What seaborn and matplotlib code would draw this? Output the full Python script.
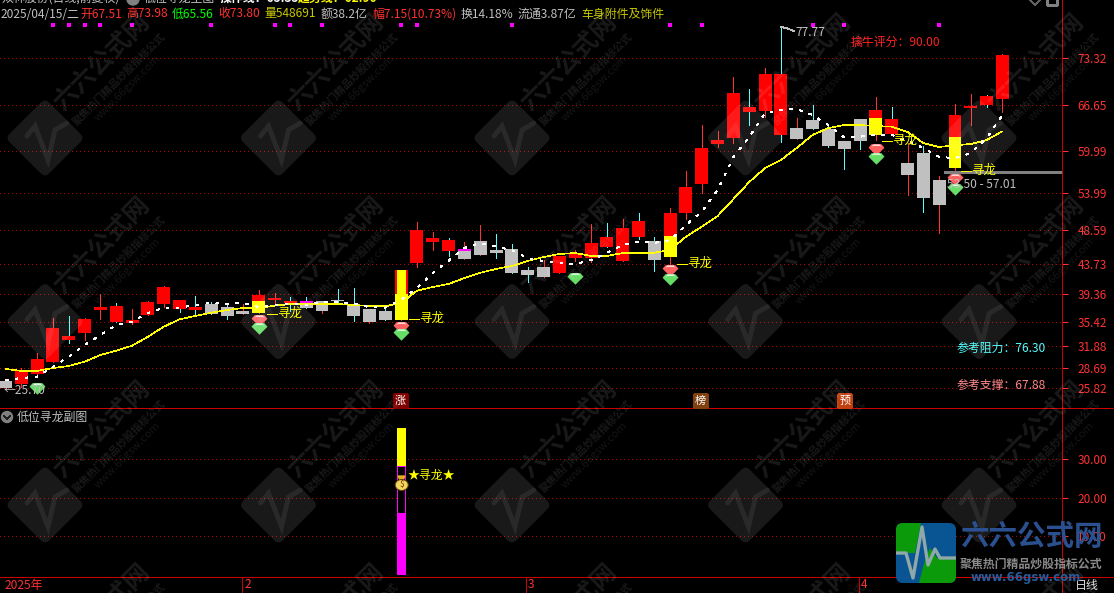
#!/usr/bin/env python3
# -*- coding: utf-8 -*-
import numpy as np
import pandas as pd
import seaborn as sns
import matplotlib.pyplot as plt
from matplotlib.patches import FancyBboxPatch, Polygon, Ellipse, Circle, Rectangle
from matplotlib.transforms import Affine2D

open_ = [26.89, 26.46, 27.89, 29.62, 32.79, 33.80, 37.10, 35.38, 35.23, 36.39, 37.97, 37.25, 37.10, 37.97, 37.53, 36.96,
         36.67, 38.55, 38.12, 38.26, 38.40, 38.55, 37.97, 37.25, 36.96, 35.66, 43.87, 46.89, 45.60, 45.74, 47.03, 45.74,
         45.89, 42.86, 43.30, 42.43, 44.59, 44.59, 46.17, 44.16, 47.61, 47.03, 44.73, 51.07, 55.24, 61.00, 61.86, 65.60,
         65.75, 62.30, 63.30, 64.45, 63.16, 61.43, 64.60, 62.30, 62.44, 58.26, 59.70, 55.82, 57.55, 66.18, 66.61, 67.51]
high = [26.89, 28.76, 30.92, 35.96, 36.25, 35.96, 39.41, 38.12, 37.25, 38.40, 40.56, 38.55, 39.12, 38.26, 37.97, 37.97,
        39.99, 39.55, 38.98, 38.98, 38.40, 40.13, 40.27, 37.25, 37.53, 42.86, 49.77, 48.33, 47.47, 46.89, 49.34, 48.05,
        46.61, 43.30, 44.30, 44.88, 45.74, 49.48, 49.63, 50.20, 51.07, 47.61, 51.79, 57.11, 63.73, 62.87, 70.64, 68.92,
        71.94, 77.77, 64.74, 66.61, 63.88, 61.43, 64.60, 67.76, 66.33, 61.14, 60.71, 56.39, 66.76, 68.20, 68.05, 73.98]
low = [25.70, 26.03, 27.89, 29.62, 32.36, 32.79, 35.81, 35.38, 35.09, 36.39, 37.53, 36.82, 36.53, 36.53, 35.81, 36.53,
       36.67, 37.82, 36.96, 37.39, 36.67, 37.97, 35.52, 35.23, 35.66, 35.66, 43.30, 45.74, 44.88, 44.45, 45.02, 44.59,
       42.43, 41.14, 41.86, 42.43, 44.16, 44.02, 46.17, 44.16, 47.32, 42.72, 43.73, 50.20, 53.95, 60.57, 61.14, 63.73,
       64.89, 61.29, 61.72, 63.16, 60.57, 57.40, 60.28, 61.57, 62.44, 53.66, 51.21, 48.19, 57.11, 63.73, 66.33, 65.56]
close = [25.88, 28.33, 30.05, 34.52, 33.37, 35.81, 37.53, 37.68, 35.66, 38.26, 40.42, 38.55, 37.53, 36.53, 36.25, 36.53,
         39.27, 38.84, 38.40, 37.39, 36.96, 38.40, 36.25, 35.38, 35.66, 42.86, 48.62, 47.47, 47.18, 44.45, 45.02, 45.31,
         42.43, 42.14, 41.86, 44.88, 45.31, 46.75, 47.61, 48.91, 49.92, 44.30, 51.07, 54.81, 60.43, 61.57, 68.34, 66.33,
         71.07, 71.07, 61.72, 63.16, 60.71, 60.28, 61.43, 65.89, 64.60, 56.54, 53.23, 52.22, 65.17, 66.47, 67.91, 73.80]
trend = [28.62, 28.33, 28.33, 28.76, 29.05, 29.67, 30.63, 31.25, 31.97, 33.26, 34.70, 35.77, 36.25, 36.72, 37.10, 37.39,
         37.39, 37.72, 37.97, 37.97, 37.97, 37.97, 37.82, 37.68, 37.64, 38.12, 39.89, 40.42, 40.85, 41.71, 42.47, 43.01,
         43.44, 44.16, 44.73, 45.17, 45.31, 44.88, 44.88, 45.31, 45.31, 45.35, 45.74, 47.66, 49.10, 50.64, 53.08, 55.53,
         57.55, 58.70, 60.43, 62.30, 63.30, 63.73, 63.73, 63.59, 63.49, 62.73, 61.14, 60.57, 60.81, 61.00, 61.57, 62.83]
oper = [27.03, 27.32, 27.51, 28.95, 30.39, 32.07, 33.51, 34.95, 35.42, 36.67, 37.44, 37.44, 37.82, 38.16, 37.97, 38.12,
        37.53, 37.82, 37.97, 37.82, 38.30, 38.26, 38.07, 37.50, 37.44, 38.55, 40.27, 42.43, 44.20, 46.03, 46.75, 46.22,
        45.74, 44.59, 44.16, 43.87, 43.73, 44.30, 45.31, 46.46, 46.94, 46.75, 47.18, 49.34, 51.26, 54.38, 59.13, 62.01,
        65.46, 65.89, 66.04, 65.17, 63.73, 61.96, 62.05, 62.30, 62.30, 61.43, 60.43, 59.13, 58.98, 59.70, 61.86, 65.17]
cyan_wick = [4, 7, 11, 12, 13, 14, 18, 19, 21, 22, 24, 28, 31, 32, 33, 38, 40, 41, 47, 49, 51, 52, 53, 54, 56, 58, 62]
yellow_part = {16: 38.40, 25: 39.41, 42: 47.76, 55: 64.74, 60: 62.01}
magenta_top = {19: 38.26, 29: 45.74}
dot_idx = [3, 4, 5, 6, 8, 13, 17, 18, 20, 25, 26, 32, 42, 44, 51, 53, 59]

green_gem_idx = [2, 16, 25, 36, 42, 55, 60]
green_gem_val = [26.07, 34.70, 33.84, 41.90, 41.71, 59.13, 54.71]
red_gem_idx = [16, 25, 42, 55, 60]
red_gem_val = [35.81, 34.85, 42.96, 60.43, 56.15]

price_ticks = [73.32, 66.65, 59.99, 53.99, 48.59, 43.73, 39.36, 35.42, 31.88, 28.69, 25.82]
sub_ticks = [30.00, 20.00, 10.00]
sub_idx = 25
sub_magenta = 16.0
sub_hollow_top = 28.3
sub_yellow_top = 38.0

RED = '#ff3232'
DKRED = '#cc0000'
CJK = ['Noto Sans CJK SC', 'DejaVu Sans']
W, H = 1114, 593

sns.set_theme(style='dark', rc={'axes.facecolor': 'black', 'figure.facecolor': 'black', 'savefig.facecolor': 'black'})
plt.rcParams['font.family'] = CJK
plt.rcParams['lines.antialiased'] = False
plt.rcParams['patch.antialiased'] = False
plt.rcParams['patch.force_edgecolor'] = False
plt.rcParams['axes.unicode_minus'] = False

df = pd.DataFrame({'idx': np.arange(len(open_)), 'open': open_, 'high': high, 'low': low, 'close': close,
                   'trend': trend, 'oper': oper})
df['up'] = df['close'] >= df['open']
df['wick'] = ['#55ffff' if i in cyan_wick else RED for i in df['idx']]

fig = plt.figure(figsize=(W / 100, H / 100), dpi=100)
ax = fig.add_axes([0, (H - 408.5) / H, 1062.3 / W, 408.5 / H])
ax2 = fig.add_axes([0, (H - 577) / H, 1062.3 / W, 168 / H])

# main panel
ax.vlines(df['idx'], df['low'], df['high'], colors=df['wick'], lw=0.72, zorder=2)
body_bottom = df[['open', 'close']].min(axis=1)
body_h = (df['open'] - df['close']).abs()
ax.bar(df['idx'], body_h, bottom=body_bottom, width=0.82, zorder=3, linewidth=0,
       color=['#ff0000' if u else '#c0c0c0' for u in df['up']])
for i, v in yellow_part.items():
    ax.bar(i, v - open_[i], bottom=open_[i], width=0.82, color='#ffff00', linewidth=0, zorder=4)
ax.bar(25, close[25] - yellow_part[25], bottom=yellow_part[25], width=0.57, color='#ffff00', linewidth=0, zorder=4)
for i, v in magenta_top.items():
    ax.bar(i, 0.3, bottom=v - 0.1, width=0.82, color='#ff00ff', linewidth=0, zorder=4)

sns.lineplot(data=df, x='idx', y='trend', color='#ffff00', lw=0.45, ax=ax, zorder=5)
sns.lineplot(data=df, x='idx', y='oper', color='white', lw=0.45, linestyle=(0, (4, 12)), dash_capstyle='butt',
             ax=ax, zorder=5)
ax.scatter(dot_idx, [78.13] * len(dot_idx), marker='s', s=6, color='#ff00ff', linewidths=0, zorder=5)

# gems
gem = [(-0.6, 0.55), (0.6, 0.55), (1, 0.1), (0, -0.9), (-1, 0.1)]
arc = [(-1, 0.3), (-0.6, 0.8), (0.6, 0.8), (1, 0.3), (0.6, 0.55), (-0.6, 0.55)]
ax.scatter(red_gem_idx, red_gem_val, marker=gem, s=133, color='#ff6060', linewidths=0, zorder=6)
ax.scatter(red_gem_idx, red_gem_val, marker=arc, s=52, color='white', linewidths=0, zorder=6)
ax.scatter(green_gem_idx, green_gem_val, marker=gem, s=133, color='#66dd66', linewidths=0, zorder=7)
ax.scatter(green_gem_idx, green_gem_val, marker=arc, s=52, color='white', linewidths=0, zorder=7)

ax.hlines(57.01, 59.3, 66.78, colors='#808080', lw=2, zorder=2)

xlim = (-5.5 / 15.825, (1062.3 - 5.5) / 15.825)
for a, ticks, ylim in [(ax, price_ticks, (81.725 - 408.5 * 0.14393, 81.725)), (ax2, sub_ticks, (-0.57, 43.06))]:
    a.set_xlim(xlim)
    a.set_ylim(ylim)
    a.set_xlabel('')
    a.set_ylabel('')
    a.set_xticks([])
    a.yaxis.tick_right()
    a.set_yticks(ticks)
    a.set_yticklabels(['%.2f' % t for t in ticks])
    a.tick_params(axis='y', colors=RED, labelsize=8.5, length=4.3, width=0.72, pad=6.5, right=True)
    a.grid(axis='y', color='#b00000', lw=0.72, ls=(0, (1, 3)))
    a.grid(axis='x', visible=False)
    a.set_axisbelow(True)
    for s in a.spines:
        a.spines[s].set_visible(False)

# sub panel
ax2.bar(sub_idx, sub_magenta, width=0.57, color='#ff00ff', linewidth=0, zorder=3)
ax2.bar(sub_idx, sub_hollow_top - sub_magenta, bottom=sub_magenta, width=0.55, facecolor='black',
        edgecolor='#ff00ff', lw=0.72, zorder=3)
ax2.bar(sub_idx, sub_yellow_top - sub_hollow_top, bottom=sub_hollow_top, width=0.57, color='#ffff00', linewidth=0,
        zorder=3)

# overlay in pixel coordinates for labels and watermark
ov = fig.add_axes([0, 0, 1, 1])
ov.set_xlim(0, W)
ov.set_ylim(H, 0)
ov.axis('off')
ov.patch.set_visible(False)
ov.set_zorder(5)


def label(x, y, s, color, size=8.6, ha='left', **kw):
    ov.text(x, y, s, color=color, fontsize=size, ha=ha, va='center', **kw)


# panel frame
for y in [408, 577]:
    ov.add_patch(Rectangle((0, y), W, 1, facecolor=DKRED, lw=0))
ov.add_patch(Rectangle((1062, 0), 1, H, facecolor=DKRED, lw=0))

# header line 1
label(2, -2, '双林股份(日线,前复权)', '#c0c0c0')
ov.add_patch(Circle((133, -1), 6, color='#808080', antialiased=True))
label(144, -2, '低位寻龙主图', '#c0c0c0')
label(220, -2, '操作线：65.35', 'white', fontweight='bold')
label(298, -2, '趋势线：62.90', '#ffff00', fontweight='bold')

# header line 2
head = [(1, '2025/04/15/二', '#c0c0c0'), (80, '开67.51', RED), (126, '高73.98', RED), (172, '低65.56', '#00ff00'),
        (218, '收73.80', RED), (264, '量548691', '#c8c800'), (321, '额38.2亿', '#c0c0c0'),
        (372, '幅7.15(10.73%)', RED), (461, '换14.18%', '#c0c0c0'), (518, '流通3.87亿', '#c0c0c0'),
        (581, '车身附件及饰件', '#c8c800')]
for x, s, c in head:
    label(x, 14, s, c)

label(795, 32, '77.77', '#c0c0c0')
ov.plot([781, 786, 794], [27, 28, 31], color='#c0c0c0', lw=0.6)
label(851, 42, '擒牛评分：90.00', '#ff2020')
label(4, 391, '←25.70', '#c0c0c0')
label(947, 184, '53.50 - 57.01', '#c0c0c0')
label(956.7, 348, '参考阻力：76.30', '#55ffff')
label(956.7, 385, '参考支撑：67.88', '#ff8888')
for x, y in [(266, 314), (408, 319), (676, 264), (881, 141), (960, 171)]:
    ov.plot([x + 1, x + 11], [y, y], color='#ffff00', lw=0.72)
    label(x + 11, y - 1, '寻龙', '#ffff00', size=9)

# tags
for x, s, c in [(400.5, '涨', '#800000'), (700, '榜', '#804010'), (844.7, '预', '#c04010')]:
    ov.add_patch(Rectangle((x - 6.5, 394), 13, 13, color=c))
    label(x, 400.5, s, 'white', size=8, ha='center')

# sub panel text
ov.add_patch(Circle((7, 417), 5.5, color='#808080', antialiased=True))
ov.plot([4, 7, 10], [416, 419, 416], color='#202020', lw=1)
label(17, 417, '低位寻龙副图', '#c0c0c0')
ov.add_patch(Polygon([(398, 476), (405, 476), (403, 480), (400, 480)], color='#e0b020', antialiased=True))
ov.add_patch(Ellipse((401.7, 485), 13, 11, facecolor='#f0d860', edgecolor='#604000', lw=0.7, antialiased=True))
label(401.7, 485, '$', '#803000', size=6, ha='center')
label(408, 475, '★寻龙★', '#ffff00')

# time axis
for x in [242, 526, 859]:
    ov.add_patch(Rectangle((x, 577), 1, H - 577, facecolor=DKRED, lw=0))
for x, s in [(5, '2025年'), (245, '2'), (528, '3'), (861, '4')]:
    label(x, 585, s, RED)
label(1075, 585, '日线', '#e0e0e0')

# small toolbar icons cut by the top edge
ov.plot([1030, 1035, 1040], [0, 5, 0], color='#606060', lw=0.72)
ov.add_patch(Rectangle((1047, -2), 10, 7, fill=False, edgecolor='#808080', lw=1))

# watermark
pulse = [(-18, -2), (-10, -12), (3, 22), (10, -8), (22, -15)]
for cy in [138, 321.5, 505, 688.5]:
    for k in range(5):
        cx = 45 + 233.5 * k
        if cy < 600:
            tr = Affine2D().rotate_deg_around(cx, cy, 45) + ov.transData
            ov.add_patch(FancyBboxPatch((cx - 28, cy - 28), 56, 56, boxstyle='round,pad=0,rounding_size=6',
                                        facecolor='white', alpha=0.10, lw=0, transform=tr, antialiased=True))
            ov.plot([cx + p[0] for p in pulse], [cy + p[1] for p in pulse], color='white', alpha=0.07, lw=3.5,
                    antialiased=True, solid_joinstyle='miter')
        ov.text(cx + 57, cy - 76, '六六公式网', color='white', alpha=0.10, fontsize=18, fontweight='bold',
                rotation=45, ha='center', va='center', rotation_mode='anchor', clip_on=True)
        ov.text(cx + 74, cy - 59, '聚焦热门精品炒股指标公式', color='white', alpha=0.10, fontsize=7.6, fontweight='bold',
                rotation=45, ha='center', va='center', rotation_mode='anchor', clip_on=True)
        ov.text(cx + 83, cy - 50, 'www.66gsw.com', color='white', alpha=0.09, fontsize=8,
                rotation=45, ha='center', va='center', rotation_mode='anchor', clip_on=True)

# corner logo
box = FancyBboxPatch((896, 523), 60, 60, boxstyle='round,pad=0,rounding_size=7', facecolor='#0a5a9c', lw=0,
                     alpha=0.95, antialiased=True)
ov.add_patch(box)
for verts in [[(896, 523), (921, 523), (915, 553), (896, 553)],
              [(919, 583), (925, 560), (930, 548), (937, 558), (956, 558), (956, 583)]]:
    g = Polygon(verts, facecolor='#0a9a0a', lw=0, antialiased=True)
    ov.add_patch(g)
    g.set_clip_path(box)
line = ov.plot([896, 906, 913, 922, 928, 935, 940, 956], [553, 553, 578, 527, 565, 549, 558, 558],
               color='#90a8a8', lw=2.4, antialiased=True)[0]
line.set_clip_path(box)
label(1031, 537, '六六公式网', '#2a5090', size=20.5, ha='center', fontweight='bold')
label(1031, 564.5, '聚焦热门精品炒股指标公式', '#8a8a8a', size=8.6, ha='center', fontweight='bold')
label(1026, 578, 'www.66gsw.com', '#2a5a9a', size=8.5, ha='center', fontweight='bold',
      family=['DejaVu Sans'])

fig.savefig('out.png', dpi=100, facecolor='black')
